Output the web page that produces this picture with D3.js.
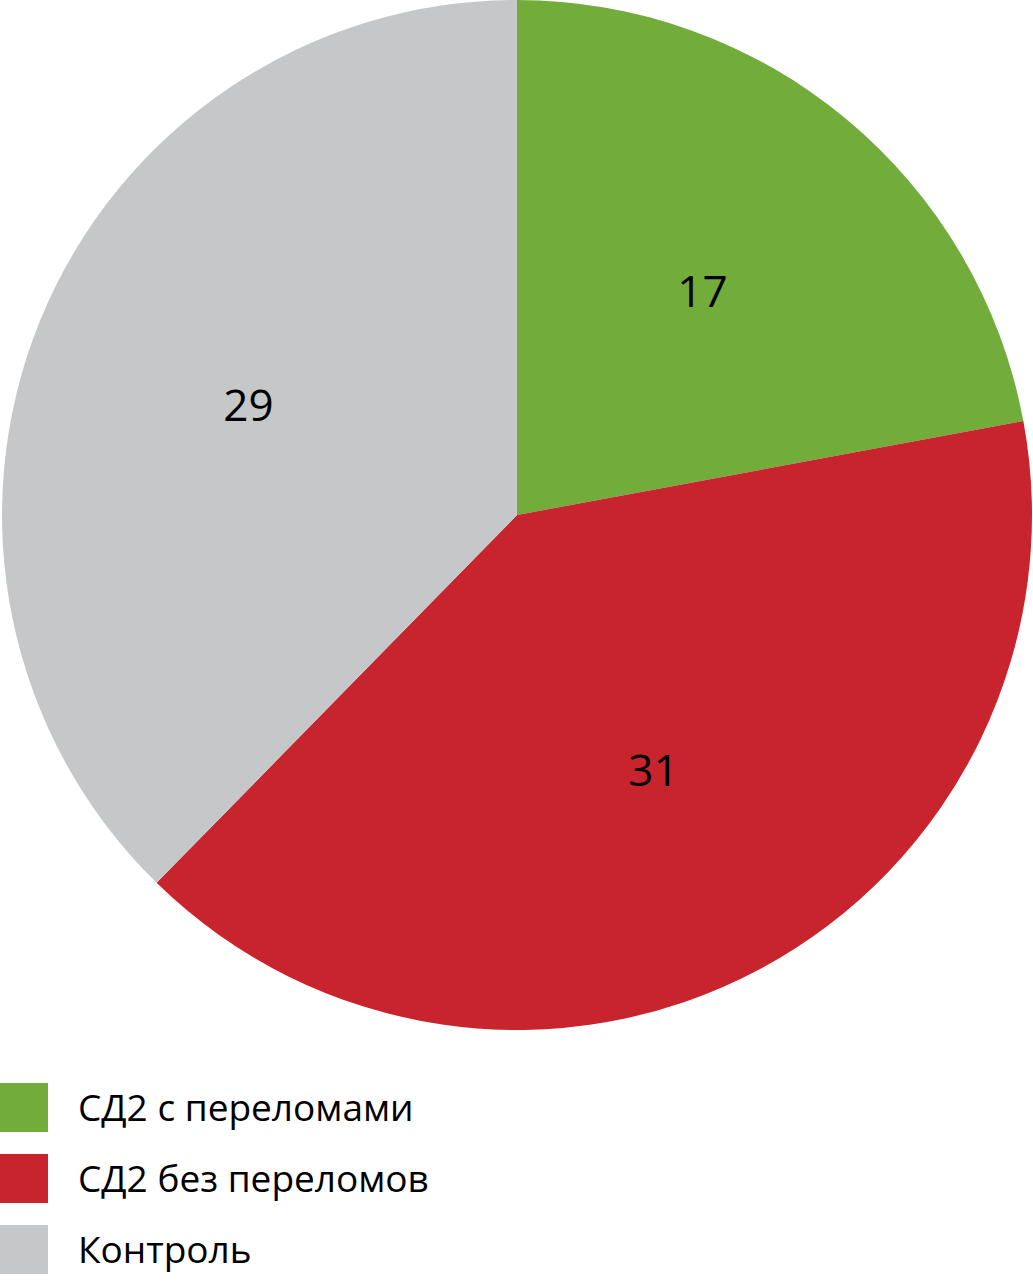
<!DOCTYPE html>
<html><head><meta charset="utf-8">
<script src="https://cdn.jsdelivr.net/npm/d3@7"></script>
<style>body{margin:0;background:#fff;} svg{display:block;}</style>
</head><body>
<svg id="chart" width="1033" height="1283"></svg>
<script>
const categories = ["СД2 с переломами", "СД2 без переломов", "Контроль"];
const values = [17, 31, 29];
const colors = ["#72AC3B", "#C8242E", "#C6C7C9"];

const svg = d3.select("#chart");
const cx = 517, cy = 515, R = 515;
const data = categories.map((c, i) => ({cat: c, value: values[i], color: colors[i]}));
const pie = d3.pie().value(d => d.value).sort(null);
const arc = d3.arc().innerRadius(0).outerRadius(R);
const labelArc = d3.arc().innerRadius(290).outerRadius(290);
const g = svg.append("g").attr("transform", `translate(${cx},${cy})`);
const arcs = pie(data);
g.selectAll("path").data(arcs).enter().append("path")
  .attr("d", arc).attr("fill", d => d.data.color);
g.selectAll("text").data(arcs).enter().append("text")
  .attr("transform", d => `translate(${labelArc.centroid(d)})`)
  .attr("text-anchor", "middle").attr("dy", "0.35em")
  .attr("font-family", "'Open Sans', sans-serif").attr("font-size", 44)
  .attr("fill", "#000").text(d => d.data.value);

const legend = svg.append("g");
const ly = d3.scaleBand().domain(categories).range([1083, 1083 + 3 * 71]);
const items = legend.selectAll("g").data(data).enter().append("g")
  .attr("transform", d => `translate(0,${ly(d.cat)})`);
items.append("rect").attr("width", 48).attr("height", 49).attr("fill", d => d.color);
items.append("text").attr("x", 78).attr("y", 25).attr("dy", "0.35em")
  .attr("font-family", "'Open Sans', sans-serif").attr("font-size", 37)
  .attr("fill", "#000").text(d => d.cat);
</script>
</body></html>
